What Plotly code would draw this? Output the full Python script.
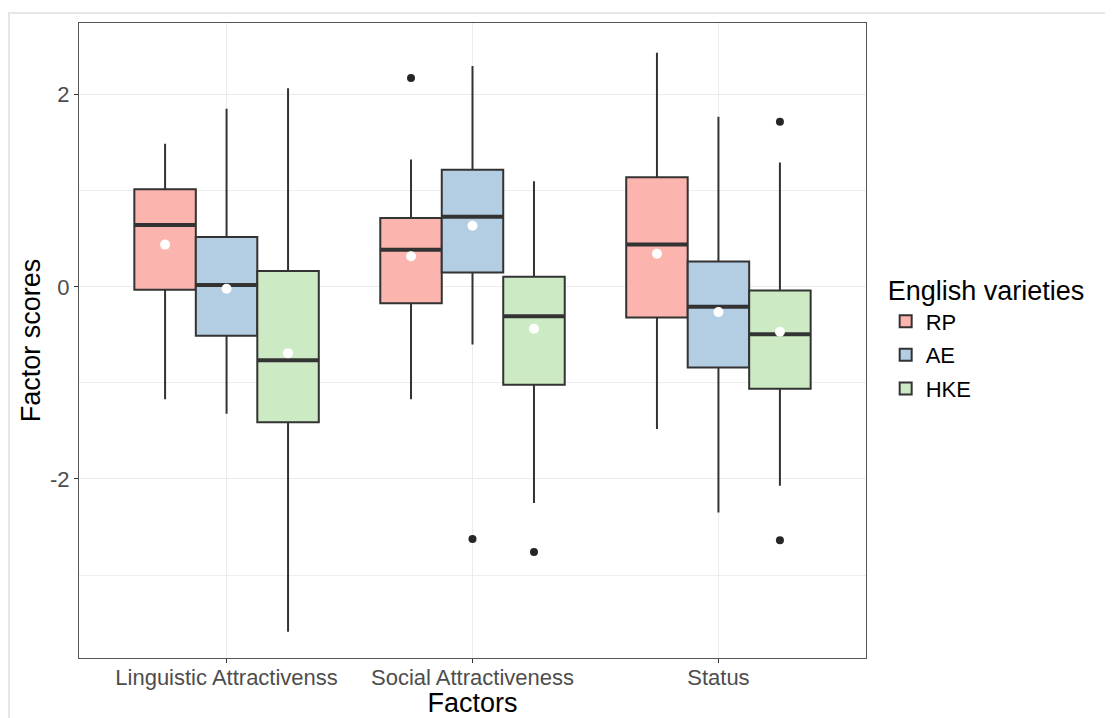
import plotly.graph_objects as go

# ---- data ----
factors = ["Linguistic Attractivenss", "Social Attractiveness", "Status"]
varieties = ["RP", "AE", "HKE"]
fills = ["#FBB4AE", "#B3CDE3", "#CCEBC5"]

# per variety: values for [Linguistic, Social, Status]
lower = {"RP": [-1.17, -1.17, -1.48], "AE": [-1.32, -0.60, -2.35], "HKE": [-3.59, -2.25, -2.07]}
q1 = {"RP": [-0.03, -0.17, -0.32], "AE": [-0.51, 0.15, -0.84], "HKE": [-1.41, -1.02, -1.06]}
median = {"RP": [0.645, 0.386, 0.442], "AE": [0.02, 0.73, -0.208], "HKE": [-0.764, -0.306, -0.493]}
q3 = {"RP": [1.015, 0.718, 1.142], "AE": [0.518, 1.219, 0.263], "HKE": [0.166, 0.106, -0.038]}
upper = {"RP": [1.49, 1.325, 2.437], "AE": [1.855, 2.30, 1.77], "HKE": [2.068, 1.10, 1.295]}
mean = {"RP": [0.44, 0.318, 0.344], "AE": [-0.02, 0.637, -0.263], "HKE": [-0.69, -0.437, -0.467]}
# outliers: (factor index, value)
outliers = {"RP": [(1, 2.174)], "AE": [(1, -2.624)], "HKE": [(1, -2.76), (2, 1.72), (2, -2.637)]}

y_ticks = [-2, 0, 2]

# ---- layout geometry (page body adds an 8px margin) ----
dodge = [-0.25, 0.0, 0.25]
box_w = 0.25
W, H = 1105, 710
ml, mr, mt, mb = 71, 247, 15, 60
x_range = [-0.6, 2.6]
y_range = [-3.864, 2.747]
pw, ph = W - ml - mr, H - mt - mb
px_per_x = pw / (x_range[1] - x_range[0])

fig = go.Figure()

for k, v in enumerate(varieties):
    xs = [i + dodge[k] for i in range(len(factors))]
    fig.add_trace(go.Box(
        name=v, x=xs, q1=q1[v], median=median[v], q3=q3[v],
        lowerfence=lower[v], upperfence=upper[v],
        width=box_w, whiskerwidth=0, boxpoints=False,
        fillcolor=fills[k], line=dict(color="#333333", width=2),
        legendgroup=v, showlegend=True,
    ))

for k, v in enumerate(varieties):
    xs = [i + dodge[k] for i in range(len(factors))]
    # thicker median line
    fig.add_trace(go.Scatter(
        x=xs, y=median[v], mode="markers",
        marker=dict(symbol="line-ew", size=box_w * px_per_x / 1.4,
                    line=dict(color="#333333", width=4)),
        showlegend=False, hoverinfo="skip", legendgroup=v,
    ))
    # mean points
    fig.add_trace(go.Scatter(
        x=xs, y=mean[v], mode="markers",
        marker=dict(symbol="circle", size=10, color="white", line=dict(width=0)),
        showlegend=False, legendgroup=v,
    ))
    # outliers
    ox = [o[0] + dodge[k] for o in outliers[v]]
    oy = [o[1] for o in outliers[v]]
    fig.add_trace(go.Scatter(
        x=ox, y=oy, mode="markers",
        marker=dict(symbol="circle", size=8, color="#262626", line=dict(width=0)),
        showlegend=False, legendgroup=v,
    ))

font = "Liberation Sans, Arial, Helvetica, sans-serif"
fig.update_layout(
    width=W, height=H,
    margin=dict(l=ml, r=mr, t=mt, b=mb, autoexpand=False),
    paper_bgcolor="white", plot_bgcolor="white",
    font=dict(family=font, size=22, color="#4D4D4D"),
    boxmode="overlay",
    legend=dict(
        title=dict(text="English varieties", font=dict(size=27, color="black")),
        font=dict(size=22, color="black"),
        x=1.025, xanchor="left", y=0.505, yanchor="middle",
        tracegroupgap=2, itemwidth=30,
    ),
    shapes=[dict(type="rect", xref="paper", yref="paper",
                 x0=(1 - ml) / pw, x1=(W + 20 - ml) / pw,
                 y0=-1, y1=(H - mb - 5) / ph,
                 line=dict(color="#E6E6E6", width=2), layer="below")],
)
fig.update_xaxes(
    range=x_range, tickvals=list(range(len(factors))), ticktext=factors,
    showgrid=True, gridcolor="#EBEBEB", gridwidth=1.4,
    showline=True, mirror=True, linecolor="#555555", linewidth=1.2,
    ticks="outside", ticklen=4, tickcolor="#333333", zeroline=False,
    ticklabelstandoff=-5,
    title=dict(text="Factors", font=dict(size=27, color="black"), standoff=12),
    automargin=False,
)
fig.update_yaxes(
    range=y_range, tickvals=y_ticks, ticktext=[str(t) for t in y_ticks],
    showgrid=True, gridcolor="#EBEBEB", gridwidth=1.4,
    minor=dict(tickvals=[-3, -1, 1], showgrid=True, gridcolor="#EEEEEE", gridwidth=1.1, ticks=""),
    showline=True, mirror=True, linecolor="#555555", linewidth=1.2,
    ticks="outside", ticklen=4, tickcolor="#333333", zeroline=False,
    title=dict(text="Factor scores", font=dict(size=27, color="black"), standoff=1),
    automargin=False,
)

fig.write_html("out.html")
